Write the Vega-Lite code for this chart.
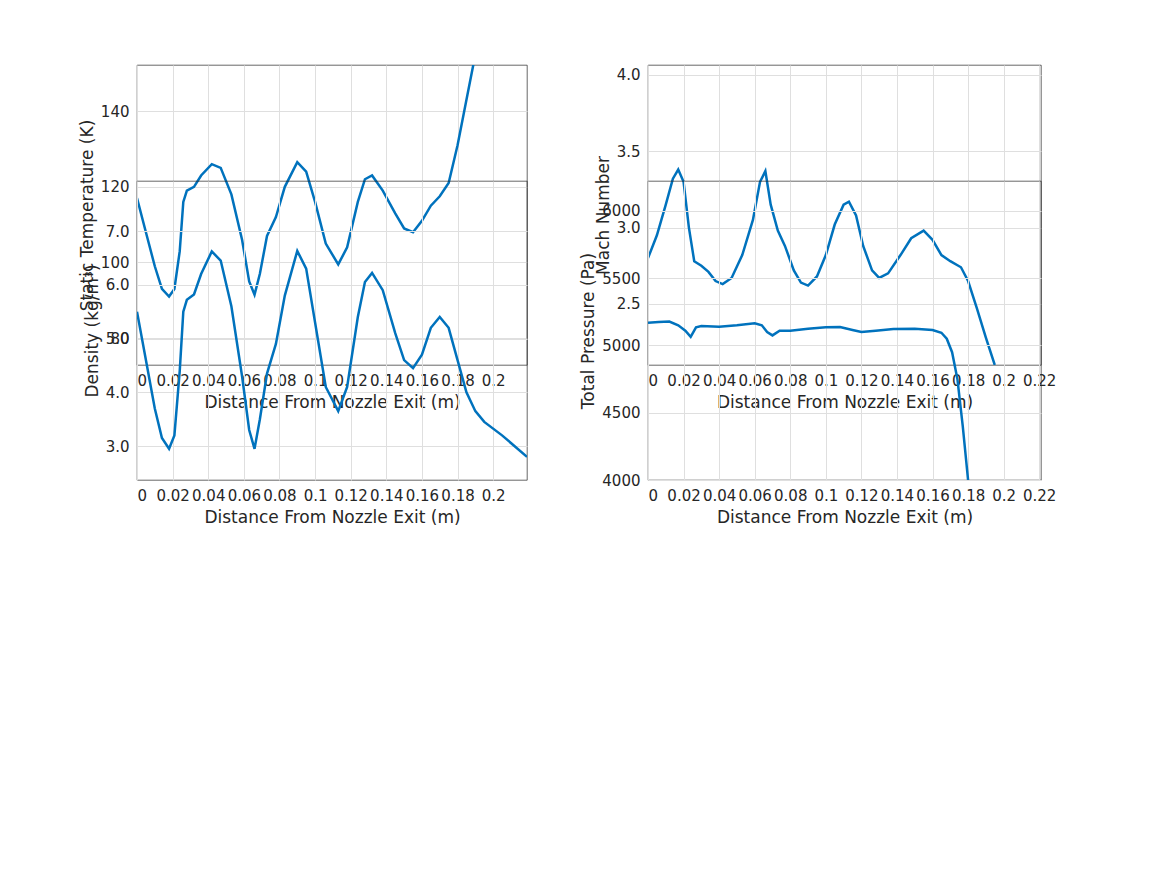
{
"$schema":"https://vega.github.io/schema/vega-lite/v6.json",
"padding":{"left":78,"top":64,"right":5,"bottom":5},
"background":"white",
"config":{"font":"DejaVu Sans","view":{"stroke":"#262626","strokeWidth":0.7},
"axis":{"grid":true,"gridColor":"#dfdfdf","domain":false,"ticks":false,"labelPadding":8,"labelFontSize":15,"titleFontSize":17,"titleFontWeight":"normal","labelColor":"#262626","titleColor":"#262626"},
"axisX":{"values":[0,0.05,0.1,0.15,0.2],"format":"~g","titlePadding":6}},
"datasets":{
"t":[{"x":0,"y":117},{"x":0.005,"y":108},{"x":0.01,"y":99},{"x":0.014,"y":93},{"x":0.018,"y":91},{"x":0.021,"y":93},{"x":0.024,"y":103},{"x":0.026,"y":116},{"x":0.028,"y":119},{"x":0.032,"y":120},{"x":0.036,"y":123},{"x":0.042,"y":126},{"x":0.047,"y":125},{"x":0.053,"y":118},{"x":0.059,"y":106},{"x":0.063,"y":95},{"x":0.066,"y":91.5},{"x":0.069,"y":97},{"x":0.073,"y":107},{"x":0.078,"y":112},{"x":0.083,"y":120},{"x":0.09,"y":126.5},{"x":0.095,"y":124},{"x":0.1,"y":116},{"x":0.106,"y":105},{"x":0.113,"y":99.5},{"x":0.118,"y":104},{"x":0.124,"y":116},{"x":0.128,"y":122},{"x":0.132,"y":123},{"x":0.138,"y":119},{"x":0.145,"y":113},{"x":0.15,"y":109},{"x":0.155,"y":108},{"x":0.16,"y":111},{"x":0.165,"y":115},{"x":0.17,"y":117.5},{"x":0.175,"y":121},{"x":0.18,"y":131},{"x":0.185,"y":143},{"x":0.19,"y":155}],
"m":[{"x":0,"y":2.8},{"x":0.005,"y":2.95},{"x":0.01,"y":3.15},{"x":0.014,"y":3.32},{"x":0.017,"y":3.38},{"x":0.02,"y":3.3},{"x":0.023,"y":3.0},{"x":0.026,"y":2.78},{"x":0.03,"y":2.75},{"x":0.034,"y":2.71},{"x":0.038,"y":2.65},{"x":0.042,"y":2.63},{"x":0.047,"y":2.67},{"x":0.053,"y":2.82},{"x":0.059,"y":3.05},{"x":0.063,"y":3.3},{"x":0.066,"y":3.37},{"x":0.069,"y":3.15},{"x":0.073,"y":2.98},{"x":0.077,"y":2.88},{"x":0.082,"y":2.72},{"x":0.086,"y":2.64},{"x":0.09,"y":2.62},{"x":0.095,"y":2.68},{"x":0.1,"y":2.82},{"x":0.105,"y":3.02},{"x":0.11,"y":3.15},{"x":0.113,"y":3.17},{"x":0.117,"y":3.08},{"x":0.121,"y":2.88},{"x":0.126,"y":2.72},{"x":0.13,"y":2.67},{"x":0.135,"y":2.7},{"x":0.142,"y":2.82},{"x":0.148,"y":2.93},{"x":0.155,"y":2.98},{"x":0.16,"y":2.92},{"x":0.165,"y":2.82},{"x":0.17,"y":2.78},{"x":0.176,"y":2.74},{"x":0.18,"y":2.65},{"x":0.185,"y":2.47},{"x":0.19,"y":2.28},{"x":0.195,"y":2.1}],
"d":[{"x":0,"y":5.5},{"x":0.005,"y":4.6},{"x":0.01,"y":3.7},{"x":0.014,"y":3.15},{"x":0.018,"y":2.95},{"x":0.021,"y":3.2},{"x":0.024,"y":4.4},{"x":0.026,"y":5.5},{"x":0.028,"y":5.72},{"x":0.032,"y":5.82},{"x":0.036,"y":6.2},{"x":0.042,"y":6.62},{"x":0.047,"y":6.45},{"x":0.053,"y":5.6},{"x":0.059,"y":4.3},{"x":0.063,"y":3.3},{"x":0.066,"y":2.95},{"x":0.069,"y":3.5},{"x":0.073,"y":4.35},{"x":0.078,"y":4.9},{"x":0.083,"y":5.8},{"x":0.09,"y":6.63},{"x":0.095,"y":6.3},{"x":0.1,"y":5.3},{"x":0.106,"y":4.1},{"x":0.113,"y":3.65},{"x":0.118,"y":4.1},{"x":0.124,"y":5.4},{"x":0.128,"y":6.05},{"x":0.132,"y":6.22},{"x":0.138,"y":5.9},{"x":0.145,"y":5.1},{"x":0.15,"y":4.6},{"x":0.155,"y":4.45},{"x":0.16,"y":4.7},{"x":0.165,"y":5.2},{"x":0.17,"y":5.4},{"x":0.175,"y":5.2},{"x":0.18,"y":4.6},{"x":0.185,"y":4.0},{"x":0.19,"y":3.65},{"x":0.195,"y":3.45},{"x":0.205,"y":3.2},{"x":0.219,"y":2.8}],
"p":[{"x":0,"y":5170},{"x":0.006,"y":5175},{"x":0.012,"y":5178},{"x":0.017,"y":5150},{"x":0.021,"y":5110},{"x":0.024,"y":5065},{"x":0.027,"y":5135},{"x":0.03,"y":5145},{"x":0.04,"y":5140},{"x":0.05,"y":5150},{"x":0.06,"y":5165},{"x":0.064,"y":5150},{"x":0.067,"y":5100},{"x":0.07,"y":5075},{"x":0.074,"y":5110},{"x":0.08,"y":5110},{"x":0.09,"y":5125},{"x":0.1,"y":5135},{"x":0.108,"y":5138},{"x":0.115,"y":5115},{"x":0.12,"y":5100},{"x":0.128,"y":5110},{"x":0.138,"y":5122},{"x":0.15,"y":5125},{"x":0.16,"y":5115},{"x":0.165,"y":5095},{"x":0.168,"y":5050},{"x":0.171,"y":4950},{"x":0.174,"y":4750},{"x":0.177,"y":4400},{"x":0.18,"y":4000}]
},
"vconcat":[
{"hconcat":[
{"width":390,"height":300,"layer":[
{"data":{"name":"t"},"mark":{"type":"line","color":"#0072BD","strokeWidth":2.5,"clip":true},
"encoding":{"x":{"field":"x","type":"quantitative","scale":{"domain":[0,0.219],"nice":false},"title":"Distance From Nozzle Exit (m)"},
"y":{"field":"y","type":"quantitative","scale":{"domain":[72.9,152.2],"nice":false,"zero":false},"axis":{"values":[80,100,120,140]},"title":"Static Temperature (K)"}}},
{"mark":{"type":"rule","color":"#555555","strokeWidth":2,"strokeDash":[14,8]},"encoding":{"x":{"datum":0.17}}},
{"mark":{"type":"text","align":"left","baseline":"middle","fontSize":16,"fontWeight":"bold","color":"black"},"encoding":{"x":{"datum":0.011},"y":{"datum":144.5},"text":{"value":"111.391 ± 10.532 K"}}}
]},
{"width":393,"height":300,"layer":[
{"data":{"name":"m"},"mark":{"type":"line","color":"#0072BD","strokeWidth":2.5,"clip":true},
"encoding":{"x":{"field":"x","type":"quantitative","scale":{"domain":[0,0.221],"nice":false},"title":"Distance From Nozzle Exit (m)"},
"y":{"field":"y","type":"quantitative","scale":{"domain":[2.1,4.065],"nice":false,"zero":false},"axis":{"values":[2.5,3,3.5,4]},"title":"Mach Number"}}},
{"mark":{"type":"rule","color":"#555555","strokeWidth":2,"strokeDash":[14,8]},"encoding":{"x":{"datum":0.17}}},
{"mark":{"type":"text","align":"left","baseline":"middle","fontSize":16,"fontWeight":"bold","color":"black"},"encoding":{"x":{"datum":0.012},"y":{"datum":3.876},"text":{"value":"2.922 ± 0.226"}}}
]}
],"spacing":121,"bounds":"flush"},
{"hconcat":[
{"width":390,"height":299,"layer":[
{"data":{"name":"d"},"mark":{"type":"line","color":"#0072BD","strokeWidth":2.5,"clip":true},
"encoding":{"x":{"field":"x","type":"quantitative","scale":{"domain":[0,0.219],"nice":false},"title":"Distance From Nozzle Exit (m)"},
"y":{"field":"y","type":"quantitative","scale":{"domain":[2.37,7.93],"nice":false,"zero":false},"axis":{"values":[3,4,5,6,7]},"title":"Density (kg/m³)"}}},
{"mark":{"type":"rule","color":"#555555","strokeWidth":2,"strokeDash":[14,8]},"encoding":{"x":{"datum":0.17}}},
{"mark":{"type":"text","align":"left","baseline":"middle","fontSize":16,"fontWeight":"bold","color":"black"},"encoding":{"x":{"datum":0.011},"y":{"datum":7.39},"text":{"value":"0.005 ± 0.001 kg/m^3"}}},
{"mark":{"type":"text","align":"left","baseline":"middle","fontSize":15,"color":"#262626"},"encoding":{"x":{"datum":0},"y":{"datum":8.27},"text":{"value":"×10⁻³"}}}
]},
{"width":393,"height":299,"layer":[
{"data":{"name":"p"},"mark":{"type":"line","color":"#0072BD","strokeWidth":2.5,"clip":true},
"encoding":{"x":{"field":"x","type":"quantitative","scale":{"domain":[0,0.221],"nice":false},"title":"Distance From Nozzle Exit (m)"},
"y":{"field":"y","type":"quantitative","scale":{"domain":[4000,6223],"nice":false,"zero":false},"axis":{"values":[4000,4500,5000,5500,6000],"format":"d"},"title":"Total Pressure (Pa)"}}},
{"mark":{"type":"rule","color":"#555555","strokeWidth":2,"strokeDash":[14,8]},"encoding":{"x":{"datum":0.17}}},
{"mark":{"type":"text","align":"left","baseline":"middle","fontSize":16,"fontWeight":"bold","color":"black"},"encoding":{"x":{"datum":0.012},"y":{"datum":6007},"text":{"value":"5138.081 ± 28.695 Pa"}}}
]}
],"spacing":121,"bounds":"flush"}
],"spacing":116,"bounds":"flush"
}
